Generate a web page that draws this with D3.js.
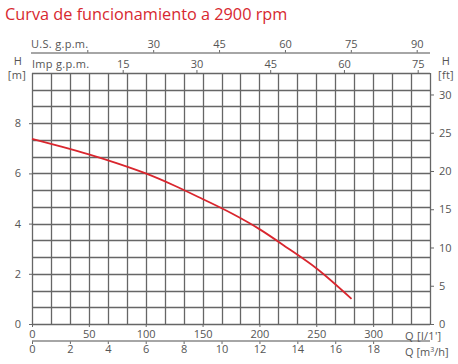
<!DOCTYPE html>
<html><head><meta charset="utf-8">
<script src="https://cdn.jsdelivr.net/npm/d3@7"></script>
<style>
body{margin:0;background:#fff;}
svg text{font-family:"Open Sans",sans-serif;}
</style></head>
<body><div id="chart"></div>
<script>
// Data
const title = "Curva de funcionamiento a 2900 rpm";
const flowLmin = [0, 25, 50, 75, 100, 125, 150, 175, 200, 225, 250, 281];
const headM   = [7.38, 7.08, 6.76, 6.40, 6.00, 5.52, 4.98, 4.42, 3.78, 3.02, 2.22, 1.0];
const hTicks = [0, 2, 4, 6, 8];
const ftTicks = [0, 5, 10, 15, 20, 25, 30];
const lminTicks = [0, 50, 100, 150, 200, 250, 300];
const m3hTicks = [0, 2, 4, 6, 8, 10, 12, 14, 16, 18];
const usGpmTicks = [15, 30, 45, 60, 75, 90];
const impGpmTicks = [15, 30, 45, 60, 75];

const W = 458, H = 364;
const L = 32, R = 430, T = 73, B = 324;
const svg = d3.select("#chart").append("svg").attr("width", W).attr("height", H);

const x = d3.scaleLinear().domain([0, 350]).range([L, R]);
const y = d3.scaleLinear().domain([0, 10]).range([B, T]);
const yFt = d3.scaleLinear().domain([0, 10 * 3.2808]).range([B, T]);
const xM3 = d3.scaleLinear().domain([0, 21]).range([L, R]);
const xUs = d3.scaleLinear().domain([15, 90]).range([87.3, 416.7]);
const xImp = d3.scaleLinear().domain([15, 75]).range([122.7, 417.7]);

const gridCol = "#666", txtCol = "#555";

// title
svg.append("text").attr("x", 5).attr("y", 20).attr("fill", "#d7282f")
  .attr("font-size", 16.3).text(title);

// grid
const g = svg.append("g");
g.selectAll("line.v").data(d3.range(0, 22)).join("line")
  .attr("x1", d => Math.round(xM3(d)) + 0.5).attr("x2", d => Math.round(xM3(d)) + 0.5)
  .attr("y1", T).attr("y2", B).attr("stroke", gridCol).attr("stroke-width", 1.3);
g.selectAll("line.h").data(d3.range(0, 16)).join("line")
  .attr("y1", d => Math.round(y(d * 10 / 15)) + 0.5).attr("y2", d => Math.round(y(d * 10 / 15)) + 0.5)
  .attr("x1", L).attr("x2", R).attr("stroke", gridCol).attr("stroke-width", 1.3);

function style(sel) {
  sel.select(".domain").remove();
  sel.selectAll(".tick line").attr("stroke", gridCol);
  sel.selectAll(".tick text").attr("fill", txtCol).attr("font-size", 11);
}

// left axis
svg.append("g").attr("transform", `translate(${L},0)`)
  .call(d3.axisLeft(y).tickValues(hTicks).tickSize(3).tickPadding(8))
  .call(style);
// right axis
svg.append("g").attr("transform", `translate(${R},0)`)
  .call(d3.axisRight(yFt).tickValues(ftTicks).tickSize(4).tickPadding(5))
  .call(style);
// bottom l/min
svg.append("g").attr("transform", `translate(0,${B})`)
  .call(d3.axisBottom(x).tickValues(lminTicks).tickSize(3).tickPadding(3))
  .call(style);
// m3/h axis
const m3g = svg.append("g").attr("transform", `translate(0,341)`)
  .call(d3.axisBottom(xM3).tickValues(m3hTicks).tickSize(3).tickPadding(1))
  .call(style);
m3g.append("line").attr("x1", L).attr("x2", R).attr("stroke", "#888").attr("stroke-width", 1.5);
// US gpm axis
const usg = svg.append("g").attr("transform", `translate(0,53)`)
  .call(d3.axisTop(xUs).tickValues(usGpmTicks).tickSize(3).tickPadding(2)
    .tickFormat(d => d === 15 ? "" : d))
  .call(style);
usg.append("line").attr("x1", L - 1).attr("x2", R).attr("stroke", "#888").attr("stroke-width", 1.5);
// Imp gpm axis
svg.append("g").attr("transform", `translate(0,${T})`)
  .call(d3.axisTop(xImp).tickValues(impGpmTicks).tickSize(3).tickPadding(2))
  .call(style);

// unit labels
const lab = (t, xx, yy, anchor) => svg.append("text").attr("x", xx).attr("y", yy)
  .attr("fill", txtCol).attr("font-size", 11).attr("text-anchor", anchor || "start")
  .attr("letter-spacing", 0.3).text(t);
lab("U.S.  g.p.m.", 31, 48);
lab("Imp  g.p.m.", 32, 68);
lab("H", 18, 65, "middle");
lab("[m]", 17, 79, "middle");
lab("H", 446, 65, "middle");
lab("[ft]", 446, 79, "middle");
lab("Q [l/1']", 405, 339.5);
const q2 = svg.append("text").attr("x", 405).attr("y", 356).attr("fill", txtCol).attr("font-size", 11);
q2.append("tspan").text("Q [m");
q2.append("tspan").attr("font-size", 7).attr("dy", -4).text("3");
q2.append("tspan").attr("dy", 4).text("/h]");

// curve
const line = d3.line().x((d, i) => x(flowLmin[i])).y(d => y(d)).curve(d3.curveMonotoneX);
svg.append("path").datum(headM).attr("d", line).attr("fill", "none")
  .attr("stroke", "#d9262e").attr("stroke-width", 1.8);
</script></body></html>
